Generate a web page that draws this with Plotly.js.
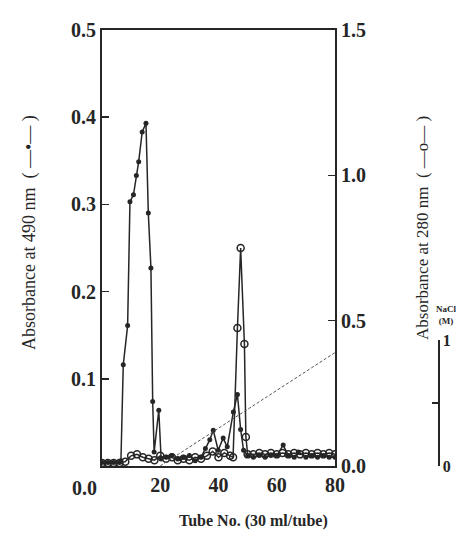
<!DOCTYPE html>
<html>
<head>
<meta charset="utf-8">
<script src="https://cdn.plot.ly/plotly-3.0.1.min.js"></script>
<style>html,body{margin:0;padding:0;background:#fff;}#chart{width:456px;height:534px;}</style>
</head>
<body>
<div id="chart"></div>
<script>
// Absorbance at 490 nm (filled dots, left axis)
const tube490 = [0,2,4,6,6.5,7.3,8.8,9.6,10.8,11.8,12.6,13.8,15.1,15.9,16.8,17.4,17.9,19.5,20.3,22,24,26,28,30,32,34,35.5,37,38.2,39.9,41.6,43,45.1,46.5,47.6,48.6,50,52,54,56,58,60,62.2,64,66,67.4,70,72,74,76,78,80];
const abs490 = [0.004,0.004,0.004,0.004,0.006,0.116,0.161,0.303,0.311,0.333,0.349,0.383,0.393,0.290,0.227,0.074,0.016,0.064,0.008,0.010,0.012,0.008,0.010,0.012,0.006,0.010,0.020,0.030,0.041,0.018,0.032,0.022,0.062,0.082,0.042,0.018,0.012,0.010,0.012,0.010,0.012,0.012,0.024,0.012,0.010,0.016,0.010,0.012,0.010,0.012,0.010,0.010];

// Absorbance at 280 nm (open circles, right axis)
const tube280 = [0,2,4,6,8,10,12,14,16,18,20,22,24,26,28,30,32,34,36,38,40,42,44,45,46.5,47.6,48.9,49.4,50,52,54,56,58,60,62,64,66,68,70,72,74,76,78,80];
const abs280 = [0.01,0.01,0.01,0.01,0.015,0.035,0.04,0.03,0.025,0.02,0.035,0.025,0.03,0.02,0.025,0.02,0.03,0.025,0.035,0.05,0.03,0.045,0.035,0.03,0.475,0.75,0.42,0.10,0.04,0.04,0.045,0.04,0.045,0.04,0.045,0.04,0.045,0.04,0.045,0.04,0.045,0.04,0.045,0.04];

// NaCl gradient (M)
const tubeNaCl = [20, 80];
const nacl = [0, 0.9];

// Tick labels
const xTicks = [20, 40, 60, 80];
const leftTicks = [0.1, 0.2, 0.3, 0.4, 0.5];
const rightTicks = [0, 0.5, 1.0, 1.5];
const naclTicks = [0, 0.5, 1];
const naclTickText = ['0', '', '1'];

const serif = 'Liberation Serif, DejaVu Serif, serif';
const ink = '#262626';

const traces = [
  {x: tubeNaCl, y: nacl, xaxis: 'x', yaxis: 'y3', mode: 'lines',
   line: {color: '#555', width: 1, dash: '3px,2px'}, hoverinfo: 'skip'},
  {x: tube280, y: abs280, xaxis: 'x', yaxis: 'y2', mode: 'lines+markers',
   line: {color: ink, width: 1.5},
   marker: {symbol: 'circle-open', size: 7, color: ink, line: {width: 1.5, color: ink}}},
  {x: tube490, y: abs490, xaxis: 'x', yaxis: 'y', mode: 'lines+markers',
   line: {color: ink, width: 1.5},
   marker: {symbol: 'circle', size: 5, color: ink}}
];

const W = 354, H = 436; // plot area in px (paper)
const px = v => (v - 102) / W;
const py = v => (466 - v) / H;

const layout = {
  width: 456, height: 534,
  margin: {l: 102, r: 0, t: 30, b: 68},
  paper_bgcolor: '#fff', plot_bgcolor: 'rgba(0,0,0,0)',
  showlegend: false,
  font: {family: serif, color: ink},
  xaxis: {
    domain: [0, 233 / W], range: [0, 80], anchor: 'y',
    tickvals: xTicks, ticks: '', showgrid: false, zeroline: false,
    showline: true, linewidth: 2, linecolor: ink, mirror: true,
    tickfont: {family: serif, size: 20, color: ink, weight: 'bold'}
  },
  yaxis: {
    range: [0, 0.5], tickvals: leftTicks, ticktext: leftTicks.map(v => v.toFixed(1)),
    ticks: 'inside', ticklen: 7, tickwidth: 1.5, tickcolor: ink,
    showgrid: false, zeroline: false, showline: true, linewidth: 2, linecolor: ink,
    tickfont: {family: serif, size: 20, color: ink, weight: 'bold'}
  },
  yaxis2: {
    overlaying: 'y', side: 'right', anchor: 'x', range: [0, 1.5],
    tickvals: rightTicks, ticktext: rightTicks.map(v => v.toFixed(1)),
    ticks: 'inside', ticklen: 7, tickwidth: 1.5, tickcolor: ink,
    showgrid: false, zeroline: false, showline: true, linewidth: 2, linecolor: ink,
    tickfont: {family: serif, size: 20, color: ink, weight: 'bold'}
  },
  yaxis3: {
    domain: [0, 126 / H], range: [0, 1], anchor: 'free', position: px(438), side: 'right',
    tickvals: naclTicks, ticktext: naclTickText,
    ticks: 'inside', ticklen: 6, tickwidth: 1.5, tickcolor: ink,
    showgrid: false, zeroline: false, showline: true, linewidth: 1.5, linecolor: ink,
    tickfont: {family: serif, size: 16, color: ink, weight: 'bold'}
  },
  annotations: [
    {text: 'Absorbance at 490 nm  ( —•— )', xref: 'paper', yref: 'paper', x: px(29), y: py(233),
     textangle: -90, showarrow: false, xanchor: 'center', yanchor: 'middle',
     font: {family: serif, size: 18, color: ink}},
    {text: 'Absorbance at 280 nm  ( —o— )', xref: 'paper', yref: 'paper', x: px(422), y: py(228),
     textangle: -90, showarrow: false, xanchor: 'center', yanchor: 'middle',
     font: {family: serif, size: 17, color: ink}},
    {text: 'Tube No. (30 ml/tube)', xref: 'paper', yref: 'paper', x: px(253), y: py(521),
     showarrow: false, xanchor: 'center', yanchor: 'middle',
     font: {family: serif, size: 16, color: ink, weight: 'bold'}},
    {text: 'NaCl<br>(M)', xref: 'paper', yref: 'paper', x: px(446), y: py(315),
     showarrow: false, xanchor: 'center', yanchor: 'middle',
     font: {family: serif, size: 9, color: ink, weight: 'bold'}},
    {text: '0.0', xref: 'paper', yref: 'paper', x: px(99), y: py(488),
     showarrow: false, xanchor: 'right', yanchor: 'middle',
     font: {family: serif, size: 20, color: ink, weight: 'bold'}}
  ]
};

Plotly.newPlot('chart', traces, layout, {staticPlot: true, displayModeBar: false});
</script>
</body>
</html>
